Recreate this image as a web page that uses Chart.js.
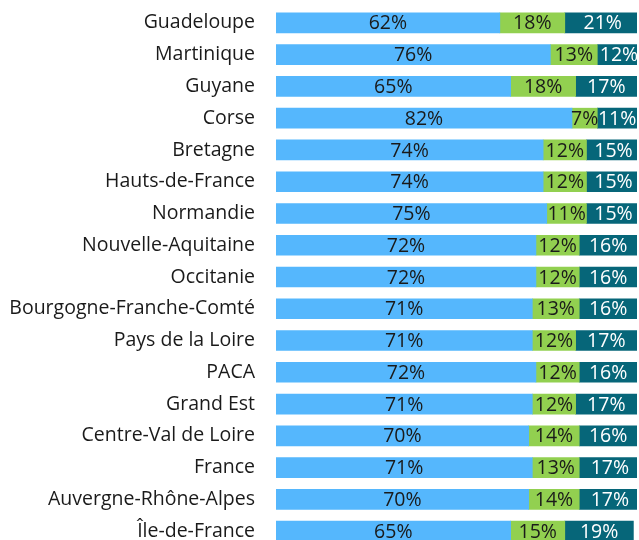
<!DOCTYPE html>
<html>
<head>
<meta charset="utf-8">
<script src="https://cdn.jsdelivr.net/npm/chart.js@4/dist/chart.umd.min.js"></script>
<style>
  html, body { margin: 0; padding: 0; background: #fff; overflow: hidden; }
  #wrap { position: absolute; left: 0; top: 0; width: 639px; height: 548px; }
</style>
</head>
<body>
<div id="wrap"><canvas id="chart"></canvas></div>
<script>
const regions = [
  "Guadeloupe", "Martinique", "Guyane", "Corse", "Bretagne", "Hauts-de-France",
  "Normandie", "Nouvelle-Aquitaine", "Occitanie", "Bourgogne-Franche-Comté",
  "Pays de la Loire", "PACA", "Grand Est", "Centre-Val de Loire", "France",
  "Auvergne-Rhône-Alpes", "Île-de-France"
];
const partBleu  = [62, 76, 65, 82, 74, 74, 75, 72, 72, 71, 71, 72, 71, 70, 71, 70, 65];
const partVert  = [18, 13, 18, 7, 12, 12, 11, 12, 12, 13, 12, 12, 12, 14, 13, 14, 15];
const partFonce = [21, 12, 17, 11, 15, 15, 15, 16, 16, 16, 17, 16, 17, 16, 17, 17, 19];

const FONT = "'Open Sans', sans-serif";
const SIZE = 19.5;

// étiquettes au centre de chaque segment
const segmentLabels = {
  id: "segmentLabels",
  afterDatasetsDraw(chart) {
    const ctx = chart.ctx;
    ctx.save();
    ctx.font = SIZE + "px " + FONT;
    ctx.textAlign = "center";
    ctx.textBaseline = "middle";
    chart.data.datasets.forEach((ds, i) => {
      const meta = chart.getDatasetMeta(i);
      meta.data.forEach((bar, j) => {
        const v = ds.data[j];
        ctx.fillStyle = ds.labelColor;
        ctx.fillText(v + "%", (bar.x + bar.base) / 2, bar.y + 1);
      });
    });
    ctx.restore();
  }
};

const common = { barThickness: 20, borderWidth: 0, clip: 0 };

new Chart(document.getElementById("chart"), {
  type: "bar",
  data: {
    labels: regions,
    datasets: [
      { ...common, data: partBleu,  backgroundColor: "#55b7fd", labelColor: "#1a1a1a" },
      { ...common, data: partVert,  backgroundColor: "#92d050", labelColor: "#1a1a1a" },
      { ...common, data: partFonce, backgroundColor: "#066679", labelColor: "#ffffff" }
    ]
  },
  options: {
    indexAxis: "y",
    responsive: true,
    maintainAspectRatio: false,
    animation: false,
    layout: { padding: { top: 7, right: 2, bottom: 1, left: 0 } },
    plugins: {
      legend: { display: false },
      tooltip: { enabled: false }
    },
    scales: {
      x: { display: false, stacked: true, min: 0, max: 100 },
      y: {
        stacked: true,
        grid: { display: false, drawTicks: false },
        border: { display: false },
        ticks: { color: "#1a1a1a", padding: 21, font: { family: FONT, size: SIZE } },
        afterFit(scale) {
          scale.width = 276;
          scale.paddingTop = 0;
          scale.paddingBottom = 0;
        }
      }
    }
  },
  plugins: [segmentLabels]
});
</script>
</body>
</html>
